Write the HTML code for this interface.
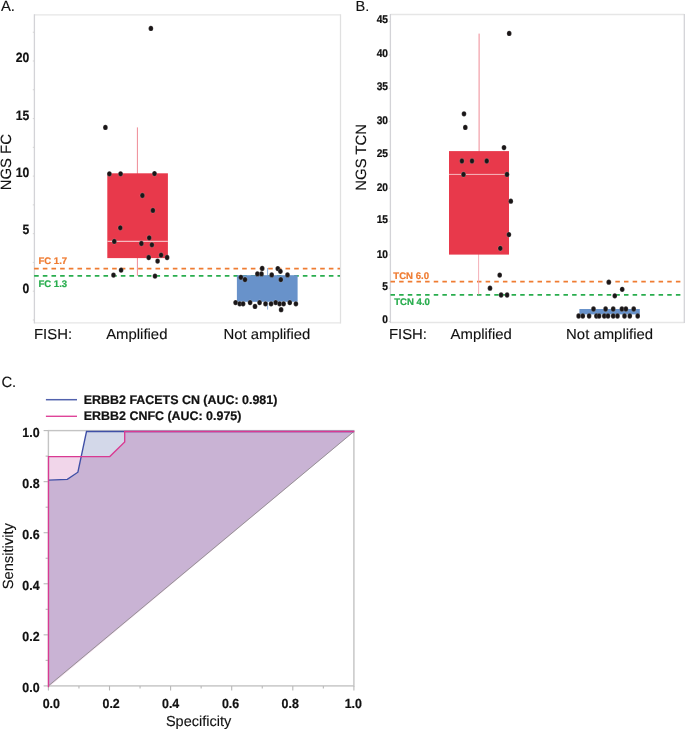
<!DOCTYPE html>
<html><head><meta charset="utf-8"><style>
html,body{margin:0;padding:0;background:#fff;}
svg{display:block;will-change:transform;}
text{font-family:"Liberation Sans",sans-serif;text-rendering:geometricPrecision;}
</style></head><body>
<svg width="685" height="730" viewBox="0 0 685 730">
<rect width="685" height="730" fill="#fff"/>
<text x="0.9" y="10.7" font-size="14.8" font-weight="normal" text-anchor="start" fill="#111" stroke="#111" stroke-width="0.12" >A.</text>
<line x1="34.4" y1="14.9" x2="340.5" y2="14.9" stroke="#e6e6e6" stroke-width="1.3" />
<line x1="34.4" y1="322.9" x2="340.5" y2="322.9" stroke="#e6e6e6" stroke-width="1.3" />
<line x1="340.5" y1="14.3" x2="340.5" y2="323.5" stroke="#e0e0e0" stroke-width="1.3" />
<line x1="34.4" y1="14.3" x2="34.4" y2="323.5" stroke="#d3d3d7" stroke-width="1.3" />
<line x1="32.8" y1="319.97499999999997" x2="34.4" y2="319.97499999999997" stroke="#d4d4d4" stroke-width="1" />
<line x1="32.8" y1="291.2" x2="34.4" y2="291.2" stroke="#d4d4d4" stroke-width="1" />
<line x1="32.8" y1="262.425" x2="34.4" y2="262.425" stroke="#d4d4d4" stroke-width="1" />
<line x1="32.8" y1="233.64999999999998" x2="34.4" y2="233.64999999999998" stroke="#d4d4d4" stroke-width="1" />
<line x1="32.8" y1="204.875" x2="34.4" y2="204.875" stroke="#d4d4d4" stroke-width="1" />
<line x1="32.8" y1="176.1" x2="34.4" y2="176.1" stroke="#d4d4d4" stroke-width="1" />
<line x1="32.8" y1="147.325" x2="34.4" y2="147.325" stroke="#d4d4d4" stroke-width="1" />
<line x1="32.8" y1="118.54999999999998" x2="34.4" y2="118.54999999999998" stroke="#d4d4d4" stroke-width="1" />
<line x1="32.8" y1="89.775" x2="34.4" y2="89.775" stroke="#d4d4d4" stroke-width="1" />
<line x1="32.8" y1="61.0" x2="34.4" y2="61.0" stroke="#d4d4d4" stroke-width="1" />
<line x1="32.8" y1="32.224999999999966" x2="34.4" y2="32.224999999999966" stroke="#d4d4d4" stroke-width="1" />
<text x="0" y="0" font-size="13.5" font-weight="bold" text-anchor="end" fill="#111" stroke="#111" stroke-width="0.22" transform="translate(29.3,292.5) scale(0.9,1)">0</text>
<text x="0" y="0" font-size="13.5" font-weight="bold" text-anchor="end" fill="#111" stroke="#111" stroke-width="0.22" transform="translate(29.3,234.4) scale(0.9,1)">5</text>
<text x="0" y="0" font-size="13.5" font-weight="bold" text-anchor="end" fill="#111" stroke="#111" stroke-width="0.22" transform="translate(29.3,177.0) scale(0.9,1)">10</text>
<text x="0" y="0" font-size="13.5" font-weight="bold" text-anchor="end" fill="#111" stroke="#111" stroke-width="0.22" transform="translate(29.3,119.5) scale(0.9,1)">15</text>
<text x="0" y="0" font-size="13.5" font-weight="bold" text-anchor="end" fill="#111" stroke="#111" stroke-width="0.22" transform="translate(29.3,62.4) scale(0.9,1)">20</text>
<text x="0" y="0" font-size="14.9" font-weight="normal" text-anchor="middle" fill="#111" stroke="#111" stroke-width="0.12" transform="translate(11.2,162.2) rotate(-90)">NGS FC</text>
<line x1="34.13" y1="268.6" x2="340" y2="268.6" stroke="#ef7c32" stroke-width="1.8" stroke-dasharray="4.6 4.068"/>
<line x1="34.13" y1="275.9" x2="340" y2="275.9" stroke="#29ad4e" stroke-width="1.8" stroke-dasharray="4.6 4.068"/>
<text x="38.4" y="263.6" font-size="9.6" font-weight="bold" text-anchor="start" fill="#ef7c32" stroke="#ef7c32" stroke-width="0.22" >FC 1.7</text>
<text x="38.4" y="286.6" font-size="9.6" font-weight="bold" text-anchor="start" fill="#29ad4e" stroke="#29ad4e" stroke-width="0.22" >FC 1.3</text>
<line x1="137.4" y1="127.4" x2="137.4" y2="275.8" stroke="#ef8a95" stroke-width="1" />
<rect x="107.3" y="173.3" width="60.6" height="84.8" fill="#e8394b" />
<line x1="107.3" y1="241.4" x2="167.9" y2="241.4" stroke="#f6b9bf" stroke-width="1.1" />
<ellipse cx="109.4" cy="173.8" rx="2.3" ry="2.65" fill="#1a1617" stroke="#fff" stroke-width="0.3" stroke-opacity="0.6"/>
<ellipse cx="120.6" cy="173.8" rx="2.3" ry="2.65" fill="#1a1617" stroke="#fff" stroke-width="0.3" stroke-opacity="0.6"/>
<ellipse cx="154.5" cy="173.6" rx="2.3" ry="2.65" fill="#1a1617" stroke="#fff" stroke-width="0.3" stroke-opacity="0.6"/>
<ellipse cx="142.4" cy="195.5" rx="2.3" ry="2.65" fill="#1a1617" stroke="#fff" stroke-width="0.3" stroke-opacity="0.6"/>
<ellipse cx="152.9" cy="210.4" rx="2.3" ry="2.65" fill="#1a1617" stroke="#fff" stroke-width="0.3" stroke-opacity="0.6"/>
<ellipse cx="120.3" cy="227.8" rx="2.3" ry="2.65" fill="#1a1617" stroke="#fff" stroke-width="0.3" stroke-opacity="0.6"/>
<ellipse cx="114.3" cy="241.4" rx="2.3" ry="2.65" fill="#1a1617" stroke="#fff" stroke-width="0.3" stroke-opacity="0.6"/>
<ellipse cx="141.4" cy="243.5" rx="2.3" ry="2.65" fill="#1a1617" stroke="#fff" stroke-width="0.3" stroke-opacity="0.6"/>
<ellipse cx="149.2" cy="237.8" rx="2.3" ry="2.65" fill="#1a1617" stroke="#fff" stroke-width="0.3" stroke-opacity="0.6"/>
<ellipse cx="151.9" cy="244.8" rx="2.3" ry="2.65" fill="#1a1617" stroke="#fff" stroke-width="0.3" stroke-opacity="0.6"/>
<ellipse cx="148.7" cy="257.5" rx="2.3" ry="2.65" fill="#1a1617" stroke="#fff" stroke-width="0.3" stroke-opacity="0.6"/>
<ellipse cx="157.6" cy="261.1" rx="2.3" ry="2.65" fill="#1a1617" stroke="#fff" stroke-width="0.3" stroke-opacity="0.6"/>
<ellipse cx="161.1" cy="255.1" rx="2.3" ry="2.65" fill="#1a1617" stroke="#fff" stroke-width="0.3" stroke-opacity="0.6"/>
<ellipse cx="167.1" cy="257.5" rx="2.3" ry="2.65" fill="#1a1617" stroke="#fff" stroke-width="0.3" stroke-opacity="0.6"/>
<ellipse cx="121.1" cy="270.1" rx="2.3" ry="2.65" fill="#1a1617" stroke="#fff" stroke-width="0.3" stroke-opacity="0.6"/>
<ellipse cx="113.5" cy="275.1" rx="2.3" ry="2.65" fill="#1a1617" stroke="#fff" stroke-width="0.3" stroke-opacity="0.6"/>
<ellipse cx="155" cy="276.1" rx="2.3" ry="2.65" fill="#1a1617" stroke="#fff" stroke-width="0.3" stroke-opacity="0.6"/>
<ellipse cx="150.9" cy="28.45" rx="2.3" ry="2.65" fill="#1a1617" stroke="#fff" stroke-width="0.3" stroke-opacity="0.6"/>
<ellipse cx="105.4" cy="127.4" rx="2.3" ry="2.65" fill="#1a1617" stroke="#fff" stroke-width="0.3" stroke-opacity="0.6"/>
<line x1="267.6" y1="268" x2="267.6" y2="309.5" stroke="#8fb0dc" stroke-width="1" />
<rect x="236.9" y="275.2" width="60.7" height="26.6" fill="#6892ca" />
<ellipse cx="262.2" cy="268.4" rx="2.3" ry="2.65" fill="#1a1617" stroke="#fff" stroke-width="0.3" stroke-opacity="0.6"/>
<ellipse cx="277.8" cy="268.6" rx="2.3" ry="2.65" fill="#1a1617" stroke="#fff" stroke-width="0.3" stroke-opacity="0.6"/>
<ellipse cx="280.4" cy="271.3" rx="2.3" ry="2.65" fill="#1a1617" stroke="#fff" stroke-width="0.3" stroke-opacity="0.6"/>
<ellipse cx="257.4" cy="273.9" rx="2.3" ry="2.65" fill="#1a1617" stroke="#fff" stroke-width="0.3" stroke-opacity="0.6"/>
<ellipse cx="261.5" cy="273.9" rx="2.3" ry="2.65" fill="#1a1617" stroke="#fff" stroke-width="0.3" stroke-opacity="0.6"/>
<ellipse cx="271.7" cy="274.9" rx="2.3" ry="2.65" fill="#1a1617" stroke="#fff" stroke-width="0.3" stroke-opacity="0.6"/>
<ellipse cx="287.5" cy="274.9" rx="2.3" ry="2.65" fill="#1a1617" stroke="#fff" stroke-width="0.3" stroke-opacity="0.6"/>
<ellipse cx="240.9" cy="277.3" rx="2.3" ry="2.65" fill="#1a1617" stroke="#fff" stroke-width="0.3" stroke-opacity="0.6"/>
<ellipse cx="245" cy="279.6" rx="2.3" ry="2.65" fill="#1a1617" stroke="#fff" stroke-width="0.3" stroke-opacity="0.6"/>
<ellipse cx="280.8" cy="279.6" rx="2.3" ry="2.65" fill="#1a1617" stroke="#fff" stroke-width="0.3" stroke-opacity="0.6"/>
<ellipse cx="235.6" cy="302.6" rx="2.3" ry="2.65" fill="#1a1617" stroke="#fff" stroke-width="0.3" stroke-opacity="0.6"/>
<ellipse cx="239.7" cy="303.8" rx="2.3" ry="2.65" fill="#1a1617" stroke="#fff" stroke-width="0.3" stroke-opacity="0.6"/>
<ellipse cx="243.1" cy="303.8" rx="2.3" ry="2.65" fill="#1a1617" stroke="#fff" stroke-width="0.3" stroke-opacity="0.6"/>
<ellipse cx="250.1" cy="302.6" rx="2.3" ry="2.65" fill="#1a1617" stroke="#fff" stroke-width="0.3" stroke-opacity="0.6"/>
<ellipse cx="255" cy="306.4" rx="2.3" ry="2.65" fill="#1a1617" stroke="#fff" stroke-width="0.3" stroke-opacity="0.6"/>
<ellipse cx="259.6" cy="302.6" rx="2.3" ry="2.65" fill="#1a1617" stroke="#fff" stroke-width="0.3" stroke-opacity="0.6"/>
<ellipse cx="265.5" cy="303.8" rx="2.3" ry="2.65" fill="#1a1617" stroke="#fff" stroke-width="0.3" stroke-opacity="0.6"/>
<ellipse cx="271.1" cy="303.8" rx="2.3" ry="2.65" fill="#1a1617" stroke="#fff" stroke-width="0.3" stroke-opacity="0.6"/>
<ellipse cx="275.7" cy="302.6" rx="2.3" ry="2.65" fill="#1a1617" stroke="#fff" stroke-width="0.3" stroke-opacity="0.6"/>
<ellipse cx="279.6" cy="303.8" rx="2.3" ry="2.65" fill="#1a1617" stroke="#fff" stroke-width="0.3" stroke-opacity="0.6"/>
<ellipse cx="283.6" cy="303.8" rx="2.3" ry="2.65" fill="#1a1617" stroke="#fff" stroke-width="0.3" stroke-opacity="0.6"/>
<ellipse cx="289.8" cy="302.6" rx="2.3" ry="2.65" fill="#1a1617" stroke="#fff" stroke-width="0.3" stroke-opacity="0.6"/>
<ellipse cx="295.9" cy="303.8" rx="2.3" ry="2.65" fill="#1a1617" stroke="#fff" stroke-width="0.3" stroke-opacity="0.6"/>
<ellipse cx="281.1" cy="309.7" rx="2.3" ry="2.65" fill="#1a1617" stroke="#fff" stroke-width="0.3" stroke-opacity="0.6"/>
<text x="0" y="0" font-size="14.4" font-weight="normal" text-anchor="start" fill="#111" stroke="#111" stroke-width="0.12" transform="translate(34.0,338.8) scale(1.035,1)">FISH:</text>
<text x="0" y="0" font-size="14.4" font-weight="normal" text-anchor="middle" fill="#111" stroke="#111" stroke-width="0.12" transform="translate(136.8,338.8) scale(1.035,1)">Amplified</text>
<text x="0" y="0" font-size="14.4" font-weight="normal" text-anchor="middle" fill="#111" stroke="#111" stroke-width="0.12" transform="translate(266.85,338.8) scale(1.035,1)">Not amplified</text>
<text x="355.6" y="10.6" font-size="14.6" font-weight="normal" text-anchor="start" fill="#111" stroke="#111" stroke-width="0.12" >B.</text>
<line x1="390.4" y1="14.5" x2="684.3" y2="14.5" stroke="#e6e6e6" stroke-width="1.3" />
<line x1="390.4" y1="322.5" x2="684.3" y2="322.5" stroke="#e6e6e6" stroke-width="1.3" />
<line x1="684.3" y1="14" x2="684.3" y2="323" stroke="#d3d3d7" stroke-width="1.3" />
<line x1="390.4" y1="14" x2="390.4" y2="323" stroke="#d3d3d7" stroke-width="1.3" />
<line x1="388.8" y1="321.5" x2="390.4" y2="321.5" stroke="#d4d4d4" stroke-width="1" />
<line x1="388.8" y1="288.19" x2="390.4" y2="288.19" stroke="#d4d4d4" stroke-width="1" />
<line x1="388.8" y1="254.88" x2="390.4" y2="254.88" stroke="#d4d4d4" stroke-width="1" />
<line x1="388.8" y1="221.57" x2="390.4" y2="221.57" stroke="#d4d4d4" stroke-width="1" />
<line x1="388.8" y1="188.26" x2="390.4" y2="188.26" stroke="#d4d4d4" stroke-width="1" />
<line x1="388.8" y1="154.95" x2="390.4" y2="154.95" stroke="#d4d4d4" stroke-width="1" />
<line x1="388.8" y1="121.64000000000001" x2="390.4" y2="121.64000000000001" stroke="#d4d4d4" stroke-width="1" />
<line x1="388.8" y1="88.33000000000001" x2="390.4" y2="88.33000000000001" stroke="#d4d4d4" stroke-width="1" />
<line x1="388.8" y1="55.01999999999998" x2="390.4" y2="55.01999999999998" stroke="#d4d4d4" stroke-width="1" />
<line x1="388.8" y1="21.70999999999998" x2="390.4" y2="21.70999999999998" stroke="#d4d4d4" stroke-width="1" />
<text x="0" y="0" font-size="11.2" font-weight="bold" text-anchor="end" fill="#111" stroke="#111" stroke-width="0.22" transform="translate(388,23.2) scale(0.91,1)">45</text>
<text x="0" y="0" font-size="11.2" font-weight="bold" text-anchor="end" fill="#111" stroke="#111" stroke-width="0.22" transform="translate(388,57.3) scale(0.91,1)">40</text>
<text x="0" y="0" font-size="11.2" font-weight="bold" text-anchor="end" fill="#111" stroke="#111" stroke-width="0.22" transform="translate(388,89.8) scale(0.91,1)">35</text>
<text x="0" y="0" font-size="11.2" font-weight="bold" text-anchor="end" fill="#111" stroke="#111" stroke-width="0.22" transform="translate(388,123.6) scale(0.91,1)">30</text>
<text x="0" y="0" font-size="11.2" font-weight="bold" text-anchor="end" fill="#111" stroke="#111" stroke-width="0.22" transform="translate(388,157.1) scale(0.91,1)">25</text>
<text x="0" y="0" font-size="11.2" font-weight="bold" text-anchor="end" fill="#111" stroke="#111" stroke-width="0.22" transform="translate(388,190.8) scale(0.91,1)">20</text>
<text x="0" y="0" font-size="11.2" font-weight="bold" text-anchor="end" fill="#111" stroke="#111" stroke-width="0.22" transform="translate(388,223.3) scale(0.91,1)">15</text>
<text x="0" y="0" font-size="11.2" font-weight="bold" text-anchor="end" fill="#111" stroke="#111" stroke-width="0.22" transform="translate(388,257.7) scale(0.91,1)">10</text>
<text x="0" y="0" font-size="11.2" font-weight="bold" text-anchor="end" fill="#111" stroke="#111" stroke-width="0.22" transform="translate(388,290.3) scale(0.91,1)">5</text>
<text x="0" y="0" font-size="11.2" font-weight="bold" text-anchor="end" fill="#111" stroke="#111" stroke-width="0.22" transform="translate(388,322.8) scale(0.91,1)">0</text>
<text x="0" y="0" font-size="14.9" font-weight="normal" text-anchor="middle" fill="#111" stroke="#111" stroke-width="0.12" transform="translate(366.4,157.3) rotate(-90)">NGS TCN</text>
<line x1="390.5" y1="281.7" x2="684" y2="281.7" stroke="#ef7c32" stroke-width="1.8" stroke-dasharray="4.5 4.148"/>
<line x1="390.5" y1="294.9" x2="684" y2="294.9" stroke="#29ad4e" stroke-width="1.8" stroke-dasharray="4.5 4.148"/>
<text x="393.3" y="278.6" font-size="9.6" font-weight="bold" text-anchor="start" fill="#ef7c32" stroke="#ef7c32" stroke-width="0.22" >TCN 6.0</text>
<text x="394.2" y="305.0" font-size="9.6" font-weight="bold" text-anchor="start" fill="#29ad4e" stroke="#29ad4e" stroke-width="0.22" >TCN 4.0</text>
<line x1="479.1" y1="33.6" x2="479.1" y2="152" stroke="#ef8a95" stroke-width="1" />
<line x1="478.6" y1="254" x2="478.6" y2="294.5" stroke="#f3a6af" stroke-width="0.9" />
<rect x="449" y="151.1" width="60" height="103.5" fill="#e8394b" />
<line x1="449" y1="174.4" x2="509" y2="174.4" stroke="#f6b9bf" stroke-width="1" />
<ellipse cx="509.2" cy="33.4" rx="2.3" ry="2.65" fill="#1a1617" stroke="#fff" stroke-width="0.3" stroke-opacity="0.6"/>
<ellipse cx="464" cy="113.8" rx="2.3" ry="2.65" fill="#1a1617" stroke="#fff" stroke-width="0.3" stroke-opacity="0.6"/>
<ellipse cx="465.3" cy="127.4" rx="2.3" ry="2.65" fill="#1a1617" stroke="#fff" stroke-width="0.3" stroke-opacity="0.6"/>
<ellipse cx="504" cy="147.6" rx="2.3" ry="2.65" fill="#1a1617" stroke="#fff" stroke-width="0.3" stroke-opacity="0.6"/>
<ellipse cx="461.9" cy="161" rx="2.3" ry="2.65" fill="#1a1617" stroke="#fff" stroke-width="0.3" stroke-opacity="0.6"/>
<ellipse cx="472" cy="161" rx="2.3" ry="2.65" fill="#1a1617" stroke="#fff" stroke-width="0.3" stroke-opacity="0.6"/>
<ellipse cx="486.7" cy="161" rx="2.3" ry="2.65" fill="#1a1617" stroke="#fff" stroke-width="0.3" stroke-opacity="0.6"/>
<ellipse cx="463.5" cy="174.4" rx="2.3" ry="2.65" fill="#1a1617" stroke="#fff" stroke-width="0.3" stroke-opacity="0.6"/>
<ellipse cx="507" cy="174.4" rx="2.3" ry="2.65" fill="#1a1617" stroke="#fff" stroke-width="0.3" stroke-opacity="0.6"/>
<ellipse cx="510.8" cy="201.2" rx="2.3" ry="2.65" fill="#1a1617" stroke="#fff" stroke-width="0.3" stroke-opacity="0.6"/>
<ellipse cx="508.9" cy="234.6" rx="2.3" ry="2.65" fill="#1a1617" stroke="#fff" stroke-width="0.3" stroke-opacity="0.6"/>
<ellipse cx="500.3" cy="248.3" rx="2.3" ry="2.65" fill="#1a1617" stroke="#fff" stroke-width="0.3" stroke-opacity="0.6"/>
<ellipse cx="499.7" cy="275.1" rx="2.3" ry="2.65" fill="#1a1617" stroke="#fff" stroke-width="0.3" stroke-opacity="0.6"/>
<ellipse cx="490" cy="288.2" rx="2.3" ry="2.65" fill="#1a1617" stroke="#fff" stroke-width="0.3" stroke-opacity="0.6"/>
<ellipse cx="501.1" cy="295" rx="2.3" ry="2.65" fill="#1a1617" stroke="#fff" stroke-width="0.3" stroke-opacity="0.6"/>
<ellipse cx="507.1" cy="295" rx="2.3" ry="2.65" fill="#1a1617" stroke="#fff" stroke-width="0.3" stroke-opacity="0.6"/>
<rect x="579.4" y="309" width="60.4" height="5.4" fill="#6892ca" />
<ellipse cx="608.8" cy="282.2" rx="2.3" ry="2.65" fill="#1a1617" stroke="#fff" stroke-width="0.3" stroke-opacity="0.6"/>
<ellipse cx="622.2" cy="289.3" rx="2.3" ry="2.65" fill="#1a1617" stroke="#fff" stroke-width="0.3" stroke-opacity="0.6"/>
<ellipse cx="614.8" cy="295.8" rx="2.3" ry="2.65" fill="#1a1617" stroke="#fff" stroke-width="0.3" stroke-opacity="0.6"/>
<ellipse cx="593.5" cy="309" rx="2.3" ry="2.65" fill="#1a1617" stroke="#fff" stroke-width="0.3" stroke-opacity="0.6"/>
<ellipse cx="605.6" cy="309" rx="2.3" ry="2.65" fill="#1a1617" stroke="#fff" stroke-width="0.3" stroke-opacity="0.6"/>
<ellipse cx="613.2" cy="309" rx="2.3" ry="2.65" fill="#1a1617" stroke="#fff" stroke-width="0.3" stroke-opacity="0.6"/>
<ellipse cx="621.9" cy="309" rx="2.3" ry="2.65" fill="#1a1617" stroke="#fff" stroke-width="0.3" stroke-opacity="0.6"/>
<ellipse cx="625.9" cy="309" rx="2.3" ry="2.65" fill="#1a1617" stroke="#fff" stroke-width="0.3" stroke-opacity="0.6"/>
<ellipse cx="633.7" cy="309" rx="2.3" ry="2.65" fill="#1a1617" stroke="#fff" stroke-width="0.3" stroke-opacity="0.6"/>
<ellipse cx="578.6" cy="316" rx="2.3" ry="2.65" fill="#1a1617" stroke="#fff" stroke-width="0.3" stroke-opacity="0.6"/>
<ellipse cx="582.8" cy="316" rx="2.3" ry="2.65" fill="#1a1617" stroke="#fff" stroke-width="0.3" stroke-opacity="0.6"/>
<ellipse cx="589.1" cy="316" rx="2.3" ry="2.65" fill="#1a1617" stroke="#fff" stroke-width="0.3" stroke-opacity="0.6"/>
<ellipse cx="596.4" cy="316" rx="2.3" ry="2.65" fill="#1a1617" stroke="#fff" stroke-width="0.3" stroke-opacity="0.6"/>
<ellipse cx="599.1" cy="316" rx="2.3" ry="2.65" fill="#1a1617" stroke="#fff" stroke-width="0.3" stroke-opacity="0.6"/>
<ellipse cx="604.3" cy="316" rx="2.3" ry="2.65" fill="#1a1617" stroke="#fff" stroke-width="0.3" stroke-opacity="0.6"/>
<ellipse cx="608" cy="316" rx="2.3" ry="2.65" fill="#1a1617" stroke="#fff" stroke-width="0.3" stroke-opacity="0.6"/>
<ellipse cx="613.2" cy="316" rx="2.3" ry="2.65" fill="#1a1617" stroke="#fff" stroke-width="0.3" stroke-opacity="0.6"/>
<ellipse cx="617.5" cy="316" rx="2.3" ry="2.65" fill="#1a1617" stroke="#fff" stroke-width="0.3" stroke-opacity="0.6"/>
<ellipse cx="624.5" cy="316" rx="2.3" ry="2.65" fill="#1a1617" stroke="#fff" stroke-width="0.3" stroke-opacity="0.6"/>
<ellipse cx="629.8" cy="316" rx="2.3" ry="2.65" fill="#1a1617" stroke="#fff" stroke-width="0.3" stroke-opacity="0.6"/>
<ellipse cx="637.7" cy="316" rx="2.3" ry="2.65" fill="#1a1617" stroke="#fff" stroke-width="0.3" stroke-opacity="0.6"/>
<text x="0" y="0" font-size="14.4" font-weight="normal" text-anchor="start" fill="#111" stroke="#111" stroke-width="0.12" transform="translate(388.9,338.8) scale(1.035,1)">FISH:</text>
<text x="0" y="0" font-size="14.4" font-weight="normal" text-anchor="middle" fill="#111" stroke="#111" stroke-width="0.12" transform="translate(481.25,338.8) scale(1.035,1)">Amplified</text>
<text x="0" y="0" font-size="14.4" font-weight="normal" text-anchor="middle" fill="#111" stroke="#111" stroke-width="0.12" transform="translate(609.55,338.8) scale(1.035,1)">Not amplified</text>
<text x="1.4" y="387.1" font-size="14.8" font-weight="normal" text-anchor="start" fill="#111" stroke="#111" stroke-width="0.12" >C.</text>
<line x1="45.9" y1="399.7" x2="77" y2="399.7" stroke="#5262ad" stroke-width="1.5" />
<line x1="45.9" y1="416.3" x2="77" y2="416.3" stroke="#df4499" stroke-width="1.4" />
<text x="83.8" y="403.8" font-size="12.45" font-weight="bold" text-anchor="start" fill="#111" stroke="#111" stroke-width="0.22" >ERBB2 FACETS CN (AUC: 0.981)</text>
<text x="83.8" y="419.6" font-size="12.45" font-weight="bold" text-anchor="start" fill="#111" stroke="#111" stroke-width="0.22" >ERBB2 CNFC (AUC: 0.975)</text>
<polygon points="48.5,685.9 48.5,480.2 67.3,479.4 77.9,472.2 86.5,431.5 353.9,431.5" fill="#d3d8e9"/>
<polygon points="48.5,687.3 48.5,456.6 109.8,456.6 124.7,442 124.7,431.5 354.4,431.5" fill="#f1d6ea"/>
<polygon points="48.5,685.9 48.5,480.2 67.3,479.4 77.9,472.2 81.15,456.6 109.8,456.6 124.7,442 124.7,431.5 353.9,431.5" fill="#c9b3d4"/>
<rect x="48.4" y="430.6" width="305.5" height="255.29999999999995" fill="none" stroke="#c4c4c4" stroke-width="1.4"/>
<line x1="48.4" y1="685.9" x2="353.9" y2="431.5" stroke="#8c8c8c" stroke-width="0.9" />
<line x1="43.6" y1="685.9" x2="48.4" y2="685.9" stroke="#b8b8b8" stroke-width="1.1" />
<line x1="48.4" y1="685.9" x2="48.4" y2="690.5" stroke="#b8b8b8" stroke-width="1.1" />
<line x1="45.6" y1="660.37" x2="48.4" y2="660.37" stroke="#b8b8b8" stroke-width="1.1" />
<line x1="78.95" y1="685.9" x2="78.95" y2="688.5" stroke="#b8b8b8" stroke-width="1.1" />
<line x1="43.6" y1="634.84" x2="48.4" y2="634.84" stroke="#b8b8b8" stroke-width="1.1" />
<line x1="109.5" y1="685.9" x2="109.5" y2="690.5" stroke="#b8b8b8" stroke-width="1.1" />
<line x1="45.6" y1="609.31" x2="48.4" y2="609.31" stroke="#b8b8b8" stroke-width="1.1" />
<line x1="140.04999999999998" y1="685.9" x2="140.04999999999998" y2="688.5" stroke="#b8b8b8" stroke-width="1.1" />
<line x1="43.6" y1="583.78" x2="48.4" y2="583.78" stroke="#b8b8b8" stroke-width="1.1" />
<line x1="170.6" y1="685.9" x2="170.6" y2="690.5" stroke="#b8b8b8" stroke-width="1.1" />
<line x1="45.6" y1="558.25" x2="48.4" y2="558.25" stroke="#b8b8b8" stroke-width="1.1" />
<line x1="201.15" y1="685.9" x2="201.15" y2="688.5" stroke="#b8b8b8" stroke-width="1.1" />
<line x1="43.6" y1="532.72" x2="48.4" y2="532.72" stroke="#b8b8b8" stroke-width="1.1" />
<line x1="231.7" y1="685.9" x2="231.7" y2="690.5" stroke="#b8b8b8" stroke-width="1.1" />
<line x1="45.6" y1="507.19000000000005" x2="48.4" y2="507.19000000000005" stroke="#b8b8b8" stroke-width="1.1" />
<line x1="262.25" y1="685.9" x2="262.25" y2="688.5" stroke="#b8b8b8" stroke-width="1.1" />
<line x1="43.6" y1="481.65999999999997" x2="48.4" y2="481.65999999999997" stroke="#b8b8b8" stroke-width="1.1" />
<line x1="292.8" y1="685.9" x2="292.8" y2="690.5" stroke="#b8b8b8" stroke-width="1.1" />
<line x1="45.6" y1="456.13" x2="48.4" y2="456.13" stroke="#b8b8b8" stroke-width="1.1" />
<line x1="323.34999999999997" y1="685.9" x2="323.34999999999997" y2="688.5" stroke="#b8b8b8" stroke-width="1.1" />
<line x1="43.6" y1="430.6" x2="48.4" y2="430.6" stroke="#b8b8b8" stroke-width="1.1" />
<line x1="353.9" y1="685.9" x2="353.9" y2="690.5" stroke="#b8b8b8" stroke-width="1.1" />
<text x="0" y="0" font-size="13.2" font-weight="bold" text-anchor="end" fill="#111" stroke="#111" stroke-width="0.22" transform="translate(39.6,692.2) scale(0.94,1)">0.0</text>
<text x="0" y="0" font-size="13.2" font-weight="bold" text-anchor="end" fill="#111" stroke="#111" stroke-width="0.22" transform="translate(39.6,641.14) scale(0.94,1)">0.2</text>
<text x="0" y="0" font-size="13.2" font-weight="bold" text-anchor="end" fill="#111" stroke="#111" stroke-width="0.22" transform="translate(39.6,590.08) scale(0.94,1)">0.4</text>
<text x="0" y="0" font-size="13.2" font-weight="bold" text-anchor="end" fill="#111" stroke="#111" stroke-width="0.22" transform="translate(39.6,539.02) scale(0.94,1)">0.6</text>
<text x="0" y="0" font-size="13.2" font-weight="bold" text-anchor="end" fill="#111" stroke="#111" stroke-width="0.22" transform="translate(39.6,487.96) scale(0.94,1)">0.8</text>
<text x="0" y="0" font-size="13.2" font-weight="bold" text-anchor="end" fill="#111" stroke="#111" stroke-width="0.22" transform="translate(39.6,436.9) scale(0.94,1)">1.0</text>
<text x="0" y="0" font-size="13.2" font-weight="bold" text-anchor="middle" fill="#111" stroke="#111" stroke-width="0.22" transform="translate(51.25,708.0) scale(0.94,1)">0.0</text>
<text x="0" y="0" font-size="13.2" font-weight="bold" text-anchor="middle" fill="#111" stroke="#111" stroke-width="0.22" transform="translate(111.15,708.0) scale(0.94,1)">0.2</text>
<text x="0" y="0" font-size="13.2" font-weight="bold" text-anchor="middle" fill="#111" stroke="#111" stroke-width="0.22" transform="translate(170.65,708.0) scale(0.94,1)">0.4</text>
<text x="0" y="0" font-size="13.2" font-weight="bold" text-anchor="middle" fill="#111" stroke="#111" stroke-width="0.22" transform="translate(230.6,708.0) scale(0.94,1)">0.6</text>
<text x="0" y="0" font-size="13.2" font-weight="bold" text-anchor="middle" fill="#111" stroke="#111" stroke-width="0.22" transform="translate(290.2,708.0) scale(0.94,1)">0.8</text>
<text x="0" y="0" font-size="13.2" font-weight="bold" text-anchor="middle" fill="#111" stroke="#111" stroke-width="0.22" transform="translate(353.3,708.0) scale(0.94,1)">1.0</text>
<polyline points="48.5,480.2 67.3,479.4 77.9,472.2 86.5,431.5 353.9,431.5" fill="none" stroke="#3f4fa6" stroke-width="1.35"/>
<polyline points="48.5,687.3 48.5,456.6 109.8,456.6 124.7,442 124.7,431.5 354.4,431.5" fill="none" stroke="#d93a92" stroke-width="1.35"/>
<text x="0" y="0" font-size="14.7" font-weight="normal" text-anchor="middle" fill="#111" stroke="#111" stroke-width="0.12" transform="translate(12.6,556.2) rotate(-90)">Sensitivity</text>
<text x="198.6" y="726" font-size="14.5" font-weight="normal" text-anchor="middle" fill="#111" stroke="#111" stroke-width="0.12" >Specificity</text>
</svg>
</body></html>
